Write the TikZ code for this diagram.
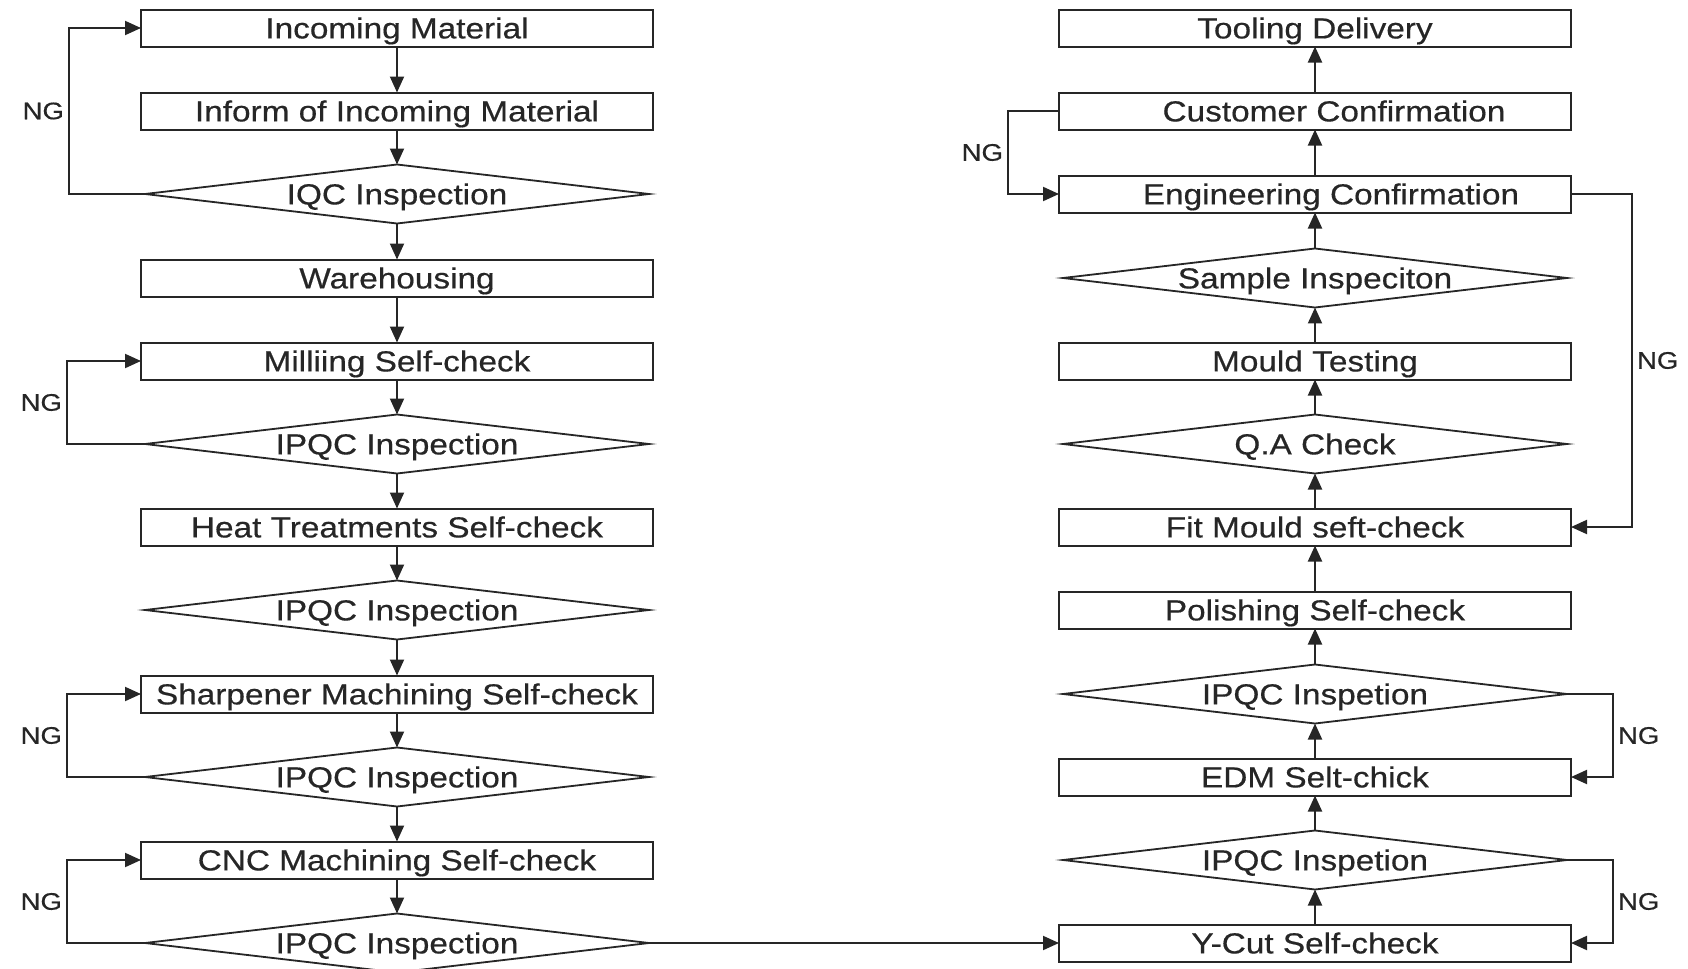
\documentclass[tikz,border=0pt]{standalone}
\usepackage{fontspec}
\setmainfont{Liberation Sans}[FakeStretch=1.15, FakeBold=0.5]
\usepackage{tikz}
\usetikzlibrary{arrows.meta, shapes.geometric}

\tikzset{
  txt/.style={font=\fontsize{14.5}{16}\selectfont, text=black!85, text height=10.4pt, text depth=0pt},
  stepbox/.style={txt, draw=black!85, line width=1pt, minimum width=256pt, minimum height=18.5pt, inner sep=0pt, outer sep=0pt},
  checkbox/.style={txt, diamond, draw=black!85, line width=0.9pt, shape aspect=8.55, minimum width=252pt, minimum height=29.5pt, inner sep=0pt, outer sep=0pt},
  flow/.style={draw=black!85, line width=1pt, -{Triangle[length=8pt, width=7pt]}},
  ng/.style={font=\fontsize{12}{14}\selectfont, text=black!85, inner sep=2pt}
}

\begin{document}
\begin{tikzpicture}[x=0.5pt, y=-0.5pt]
  \useasboundingbox (0,0) rectangle (1688,969);

  % left column
  \node[stepbox]  (inc)    at (397,28)  {Incoming Material};
  \node[stepbox]  (inform) at (397,111) {Inform of Incoming Material};
  \node[checkbox] (iqc)    at (397,194) {IQC Inspection};
  \node[stepbox]  (ware)   at (397,278) {Warehousing};
  \node[stepbox]  (mill)   at (397,361) {Milliing Self-check};
  \node[checkbox] (ipqcA)  at (397,444) {IPQC Inspection};
  \node[stepbox]  (heat)   at (397,527) {Heat Treatments Self-check};
  \node[checkbox] (ipqcB)  at (397,610) {IPQC Inspection};
  \node[stepbox]  (sharp)  at (397,694) {Sharpener Machining Self-check};
  \node[checkbox] (ipqcC)  at (397,777) {IPQC Inspection};
  \node[stepbox]  (cnc)    at (397,860) {CNC Machining Self-check};
  \node[checkbox] (ipqcD)  at (397,943) {IPQC Inspection};

  % right column
  \node[stepbox]  (deliv)  at (1315,28)  {Tooling Delivery};
  \node[stepbox]  (cust)   at (1315,111) {\hspace*{19pt}Customer Confirmation};
  \node[stepbox]  (eng)    at (1315,194) {\hspace*{16pt}Engineering Confirmation};
  \node[checkbox] (sample) at (1315,278) {Sample Inspeciton};
  \node[stepbox]  (mtest)  at (1315,361) {Mould Testing};
  \node[checkbox] (qa)     at (1315,444) {Q.A Check};
  \node[stepbox]  (fit)    at (1315,527) {Fit Mould seft-check};
  \node[stepbox]  (polish) at (1315,610) {Polishing Self-check};
  \node[checkbox] (ipqcE)  at (1315,694) {IPQC Inspetion};
  \node[stepbox]  (edm)    at (1315,777) {EDM Selt-chick};
  \node[checkbox] (ipqcF)  at (1315,860) {IPQC Inspetion};
  \node[stepbox]  (ycut)   at (1315,943) {Y-Cut Self-check};

  % main flow
  \foreach \a/\b in {inc/inform, inform/iqc, iqc/ware, ware/mill, mill/ipqcA, ipqcA/heat,
                     heat/ipqcB, ipqcB/sharp, sharp/ipqcC, ipqcC/cnc, cnc/ipqcD}
    \draw[flow] (\a) -- (\b);
  \foreach \a/\b in {ycut/ipqcF, ipqcF/edm, edm/ipqcE, ipqcE/polish, polish/fit, fit/qa,
                     qa/mtest, mtest/sample, sample/eng, eng/cust, cust/deliv}
    \draw[flow] (\a) -- (\b);
  \draw[flow] (ipqcD.east) -- (ycut.west);

  % NG loops
  \draw[flow] (iqc.west) -- ++(-76,0) |- node[ng, left, pos=0.25] (ngA) {NG} (inc.west);
  \draw[flow] (ipqcA.west) -- ++(-78,0) |- node[ng, left, pos=0.25] (ngB) {NG} (mill.west);
  \draw[flow] (ipqcC.west) -- ++(-78,0) |- node[ng, left, pos=0.25] (ngC) {NG} (sharp.west);
  \draw[flow] (ipqcD.west) -- ++(-78,0) |- node[ng, left, pos=0.25] (ngD) {NG} (cnc.west);
  \draw[flow] (cust.west) -- ++(-51,0) |- node[ng, left, pos=0.25] (ngE) {NG} (eng.west);
  \draw[flow] (eng.east) -- ++(61,0) |- node[ng, right, pos=0.25] (ngF) {NG} (fit.east);
  \draw[flow] (ipqcE.east) -- ++(46,0) |- node[ng, right, pos=0.25] (ngG) {NG} (edm.east);
  \draw[flow] (ipqcF.east) -- ++(46,0) |- node[ng, right, pos=0.25] (ngH) {NG} (ycut.east);
\end{tikzpicture}
\end{document}
